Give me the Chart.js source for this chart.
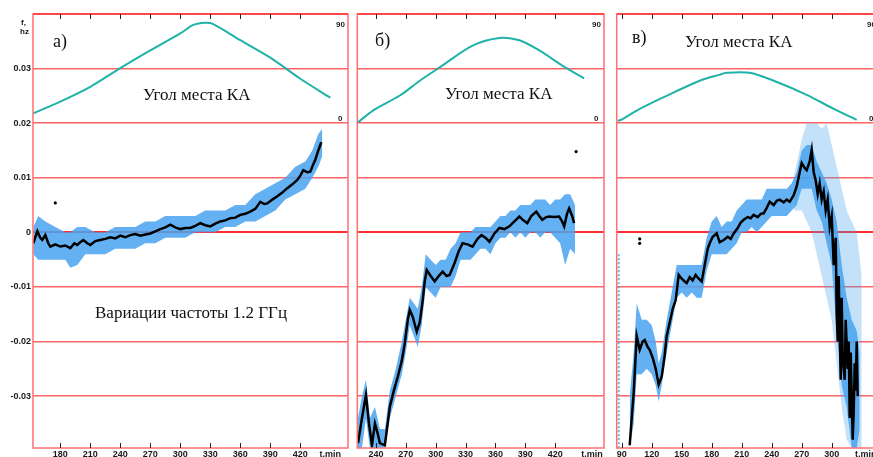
<!DOCTYPE html>
<html><head><meta charset="utf-8">
<script src="https://cdn.jsdelivr.net/npm/chart.js@4/dist/chart.umd.min.js"></script>
<style>
html,body{margin:0;padding:0;background:#fff;width:873px;height:457px;overflow:hidden;position:relative}
canvas{position:absolute;top:0}
</style></head><body>
<canvas id="ca" width="352" height="457" style="left:0px"></canvas>
<canvas id="cb" width="258" height="457" style="left:350px"></canvas>
<canvas id="cc" width="275" height="457" style="left:610px"></canvas>
<script>
// ---------- common axis data ----------
const F_MIN = -0.0395, F_MAX = 0.04;
const yTicks = [-0.03, -0.02, -0.01, 0, 0.01, 0.02, 0.03, 0.04];
const ELEV_ZERO_F = 0.02;              // elevation 0 sits on the 0.02 line, 90 on the top
const ELEV_MAX = 90;
const ELEV_MIN = -ELEV_MAX * (ELEV_ZERO_F - F_MIN) / (F_MAX - ELEV_ZERO_F);

// ---------- panel а ----------
const xTicksA = [180, 210, 240, 270, 300, 330, 360, 390, 420];
const xUnitA = 450;
const tA = [153,157,160,162,165,168,170,175,180,185,190,194,197,200,203,207,210,215,220,225,230,235,240,245,250,255,260,265,270,275,280,285,290,295,300,305,310,315,320,325,330,335,340,345,350,355,360,365,370,375,380,384,387,392,397,402,407,412,417,420,423,427,430,433,435,438,441];
const fA = [-0.0020,0.0002,-0.0010,-0.0014,-0.0005,-0.0020,-0.0026,-0.0022,-0.0026,-0.0024,-0.0029,-0.0020,-0.0023,-0.0018,-0.0014,-0.0020,-0.0023,-0.0016,-0.0014,-0.0012,-0.0009,-0.0011,-0.0006,-0.0009,-0.0005,-0.0003,-0.0006,-0.0004,-0.0002,0.0002,0.0006,0.0009,0.0014,0.0009,0.0006,0.0008,0.0008,0.0012,0.0017,0.0013,0.0011,0.0016,0.0020,0.0022,0.0026,0.0027,0.0032,0.0034,0.0038,0.0043,0.0056,0.0052,0.0053,0.0060,0.0066,0.0073,0.0081,0.0088,0.0096,0.0104,0.0114,0.0110,0.0111,0.0125,0.0133,0.0150,0.0165];
const bandTA = [153,158,165,175,185,190,197,205,215,225,235,245,255,265,275,285,295,305,315,325,335,345,355,365,375,385,395,405,415,425,432,438,442];
const bandUpA = [0.001,0.003,0.002,0.001,0.000,0.000,0.001,0.001,0.000,0.000,0.001,0.001,0.001,0.002,0.002,0.003,0.003,0.003,0.003,0.004,0.004,0.004,0.005,0.005,0.007,0.008,0.009,0.010,0.012,0.013,0.015,0.018,0.019];
const bandLoA = [-0.004,-0.005,-0.005,-0.005,-0.005,-0.0065,-0.006,-0.004,-0.004,-0.004,-0.003,-0.003,-0.003,-0.002,-0.002,-0.001,-0.001,-0.001,0.000,0.000,0.000,0.001,0.001,0.002,0.002,0.003,0.004,0.006,0.007,0.008,0.010,0.012,0.014];
const elevTA = [153,180,210,240,270,300,313,325,333,360,390,420,450];
const elevA = [8.1,17.8,30,45.4,60,74,81,82.8,81.7,68.4,54,36.6,21];
const outTA = [175];
const outFA = [0.0054];

// ---------- panel б ----------
const xTicksB = [240, 270, 300, 330, 360, 390, 420];
const xUnitB = 457;
const tB = [222,226,230,233,236,239,242,244,249,254,258,262,266,269,272,274,277,281,284,287,289,291,295,299,303,307,311,314,319,323,327,332,337,342,346,350,354,359,364,369,374,379,384,388,392,396,401,404,407,411,414,419,424,427,429,432,434,437,439];
const fB = [-0.0386,-0.0340,-0.0298,-0.0350,-0.0390,-0.0350,-0.0370,-0.0386,-0.0390,-0.0319,-0.0290,-0.0264,-0.0235,-0.0203,-0.0160,-0.0142,-0.0155,-0.0182,-0.0165,-0.0124,-0.0090,-0.0069,-0.0080,-0.0090,-0.0080,-0.0072,-0.0080,-0.0078,-0.0056,-0.0035,-0.0020,-0.0022,-0.0026,-0.0012,-0.0005,-0.0010,-0.0017,-0.0002,0.0008,0.0006,0.0011,0.0020,0.0029,0.0022,0.0017,0.0030,0.0038,0.0030,0.0023,0.0028,0.0029,0.0028,0.0029,0.0020,0.0011,0.0035,0.0044,0.0030,0.0017];
const bandTB = [222,226,230,234,239,244,249,254,260,266,270,274,278,282,286,290,295,300,305,310,315,320,325,330,335,340,345,350,355,360,365,370,375,380,385,390,395,400,405,410,415,420,425,430,435,440];
const bandUpB = [-0.034,-0.030,-0.027,-0.034,-0.032,-0.036,-0.036,-0.029,-0.025,-0.020,-0.016,-0.012,-0.013,-0.014,-0.010,-0.004,-0.005,-0.006,-0.005,-0.005,-0.003,-0.002,0.000,0.000,0.000,0.001,0.001,0.001,0.001,0.002,0.003,0.003,0.004,0.004,0.005,0.005,0.005,0.006,0.006,0.006,0.005,0.006,0.006,0.007,0.007,0.005];
const bandLoB = [-0.0395,-0.0395,-0.034,-0.0395,-0.0395,-0.0395,-0.0395,-0.034,-0.030,-0.026,-0.022,-0.017,-0.019,-0.021,-0.017,-0.010,-0.011,-0.012,-0.010,-0.010,-0.010,-0.008,-0.005,-0.005,-0.005,-0.004,-0.003,-0.003,-0.004,-0.002,-0.001,-0.001,0.000,-0.001,0.000,-0.001,0.000,0.000,-0.001,0.000,0.000,-0.001,-0.002,-0.006,-0.003,-0.004];
const elevTB = [221,237,264,284,304,337,364,384,404,430,449];
const elevB = [0,10.4,22.8,35,46,64,70.3,68.4,60,46,37];
const outTB = [441];
const outFB = [0.0148];

// ---------- panel в ----------
const xTicksC = [90, 120, 150, 180, 210, 240, 270, 300];
const xUnitC = 334;
const tC = [98,100,102,105,108,111,113,116,118,121,124,127,130,133,135,138,141,144,147,150,153,155,158,161,164,167,170,173,176,178,181,185,188,192,196,199,202,206,209,212,216,219,222,226,229,232,235,238,242,245,248,252,255,258,262,265,268,270,273,275,278,280,282,284,286,288,290,292,294,296,298,300,302,304,305,306,307,308,309,310,311,313,314,316,317,318,319,320,321,322,323,324,325,326];
const fC = [-0.039,-0.034,-0.0294,-0.0190,-0.0215,-0.0200,-0.0197,-0.0210,-0.0215,-0.0230,-0.0250,-0.0279,-0.0264,-0.0225,-0.0190,-0.0165,-0.0140,-0.0124,-0.0078,-0.0085,-0.0090,-0.0093,-0.0082,-0.0088,-0.0078,-0.0085,-0.0090,-0.0060,-0.0030,-0.0020,-0.0008,-0.0002,-0.0018,-0.0014,-0.0008,-0.0012,-0.0002,0.0008,0.0018,0.0023,0.0028,0.0026,0.0032,0.0028,0.0034,0.0035,0.0045,0.0056,0.0050,0.0058,0.0060,0.0055,0.0060,0.0056,0.0068,0.0084,0.0110,0.0127,0.0118,0.0114,0.0130,0.0151,0.0110,0.0095,0.0070,0.0090,0.0060,0.0075,0.0040,0.0060,0.0010,0.0030,-0.0060,-0.0010,-0.0150,-0.0200,-0.0080,-0.0180,-0.0270,-0.0120,-0.0230,-0.0270,-0.0160,-0.0250,-0.0200,-0.0340,-0.0220,-0.0300,-0.0380,-0.0330,-0.0240,-0.0290,-0.0200,-0.0300];
const bandTC = [98,102,105,110,115,120,124,127,130,135,140,145,150,155,160,165,170,175,180,185,190,195,200,205,210,215,220,225,230,235,240,245,250,255,260,265,270,275,280,285,290,295,300,305,310,315,320,325,328];
const bandUpC = [-0.030,-0.022,-0.013,-0.016,-0.016,-0.017,-0.020,-0.024,-0.022,-0.016,-0.011,-0.006,-0.006,-0.006,-0.006,-0.006,-0.006,-0.001,0.002,0.003,0.001,0.002,0.002,0.004,0.005,0.006,0.006,0.006,0.006,0.008,0.008,0.008,0.008,0.008,0.009,0.011,0.015,0.016,0.016,0.013,0.011,0.009,0.006,0.002,-0.006,-0.012,-0.016,-0.018,-0.022];
const bandLoC = [-0.0395,-0.035,-0.026,-0.026,-0.025,-0.026,-0.028,-0.031,-0.028,-0.022,-0.017,-0.012,-0.011,-0.012,-0.011,-0.012,-0.012,-0.007,-0.004,-0.004,-0.004,-0.004,-0.003,-0.002,0.000,0.000,0.001,0.000,0.001,0.002,0.003,0.003,0.003,0.003,0.004,0.005,0.008,0.008,0.008,0.004,0.002,-0.002,-0.006,-0.018,-0.028,-0.032,-0.0395,-0.0395,-0.036];
const outerTC = [262,270,275,280,285,290,295,300,305,310,315,320,325,330];
const outerUpC = [0.010,0.017,0.020,0.020,0.020,0.019,0.020,0.016,0.012,0.008,0.004,0.002,0.000,-0.008];
const outerLoC = [0.004,0.004,0.002,0.000,-0.004,-0.008,-0.012,-0.016,-0.024,-0.032,-0.038,-0.0395,-0.0395,-0.0395];
const spurTC = [87, 87];
const spurFC = [-0.004, -0.0395];
const elevTC = [86,90,105,132,168,188,195,218,242,275,302,325];
const elevC = [2,3,10.4,21.4,35,40,41.6,41.6,35,23.4,11.8,2.7];
const outTC = [108, 108];
const outFC = [-0.0012, -0.0020];

// ---------- styling ----------
const BLUE = 'rgba(72,163,240,0.85)';
const BLUE_LIGHT = 'rgba(72,163,240,0.32)';
const TEAL = '#1fb2a8';
const GRID = '#ff6464';
const ZERO = '#ff2e2e';
const LABEL_FONT = {family: 'Liberation Sans', size: 9, weight: 'bold'};

function zip(xs, ys) {
  const n = Math.min(xs.length, ys.length), out = [];
  for (let i = 0; i < n; i++) out.push({x: xs[i], y: ys[i]});
  return out;
}

function panelPlugin(p) {
  return {
    id: 'panelDeco',
    afterDatasetsDraw(chart) {
      const {ctx, chartArea: a, scales} = chart;
      const x = scales.x, yE = scales.yE;
      ctx.save();
      // frame
      ctx.strokeStyle = '#ff7070';
      ctx.lineWidth = 1.5;
      ctx.strokeRect(a.left, a.top, a.right - a.left, a.bottom - a.top);
      ctx.strokeStyle = '#ff3a3a';
      ctx.beginPath(); ctx.moveTo(a.left, a.top); ctx.lineTo(a.right, a.top); ctx.stroke();
      // inward tick marks top and bottom
      ctx.strokeStyle = '#222';
      ctx.lineWidth = 1;
      p.xTicks.forEach(v => {
        const px = Math.round(x.getPixelForValue(v)) + 0.5;
        ctx.beginPath();
        ctx.moveTo(px, a.top); ctx.lineTo(px, a.top + 5);
        ctx.moveTo(px, a.bottom); ctx.lineTo(px, a.bottom - 5);
        ctx.stroke();
      });
      // elevation scale labels
      ctx.fillStyle = '#222';
      ctx.font = 'bold 8px "Liberation Sans"';
      ctx.textAlign = 'left';
      ctx.textBaseline = 'alphabetic';
      ctx.fillText(String(ELEV_MAX), a.right - 12, yE.getPixelForValue(ELEV_MAX) + 13);
      ctx.fillText('0', a.right - 10, yE.getPixelForValue(0) - 2);
      // annotations
      p.notes.forEach(n => {
        ctx.font = n.font || '17px "Liberation Serif"';
        ctx.fillStyle = '#111';
        ctx.fillText(n.text, n.x - p.left, n.y);
      });
      ctx.restore();
    }
  };
}

function makeChart(id, p) {
  const ds = [];
  ds.push({data: zip(p.bandT, p.bandUp), borderWidth: 0, pointRadius: 0, fill: false, order: 6});
  ds.push({data: zip(p.bandT, p.bandLo), borderWidth: 0, pointRadius: 0, fill: '-1', backgroundColor: BLUE, order: 6});
  if (p.outerT) {
    ds.push({data: zip(p.outerT, p.outerUp), borderWidth: 0, pointRadius: 0, fill: false, order: 8});
    ds.push({data: zip(p.outerT, p.outerLo), borderWidth: 0, pointRadius: 0, fill: '-1', backgroundColor: BLUE_LIGHT, order: 8});
  }
  if (p.spurT) {
    ds.push({data: zip(p.spurT, p.spurF), borderColor: BLUE, borderWidth: 2, borderDash: [2, 2], pointRadius: 0, fill: false, order: 7});
  }
  ds.push({data: zip(p.t, p.f), borderColor: '#000', borderWidth: 2.5, pointRadius: 0, fill: false, order: 1});
  ds.push({data: zip(p.elevT, p.elev), yAxisID: 'yE', borderColor: TEAL, borderWidth: 2, pointRadius: 0, tension: 0.3, fill: false, order: 2});
  if (p.outT) {
    ds.push({data: zip(p.outT, p.outF), showLine: false, pointRadius: 1.6, pointBackgroundColor: '#000', pointBorderWidth: 0, order: 0});
  }
  return new Chart(document.getElementById(id), {
    type: 'line',
    data: {datasets: ds},
    options: {
      responsive: false, animation: false, events: [],
      layout: {padding: {top: 14, left: p.padL, right: p.padR, bottom: 0}},
      plugins: {legend: {display: false}, tooltip: {enabled: false}},
      scales: {
        x: {
          type: 'linear', min: p.xMin, max: p.xMax,
          grid: {display: false, drawTicks: false}, border: {display: false},
          afterBuildTicks: s => { s.ticks = p.xTicks.concat([p.xUnit]).map(v => ({value: v})); },
          afterFit: s => { s.height = 9; s.paddingLeft = 0; s.paddingRight = 0; },
          ticks: {autoSkip: false, maxRotation: 0, minRotation: 0, padding: 1, color: '#1a1a1a', font: LABEL_FONT,
                  callback: v => v === p.xUnit ? 't,min' : String(v)}
        },
        y: {
          type: 'linear', min: F_MIN, max: F_MAX,
          grid: {drawTicks: false,
                 color: c => (c.tick && c.tick.value === 0) ? ZERO : GRID,
                 lineWidth: c => (c.tick && c.tick.value === 0) ? 2 : 1.5},
          border: {display: false},
          afterBuildTicks: s => { s.ticks = yTicks.map(v => ({value: v})); },
          afterFit: s => { s.width = p.showY ? 33 : 0; s.paddingTop = 0; s.paddingBottom = 0; },
          ticks: {display: p.showY, padding: 2, color: '#1a1a1a', font: LABEL_FONT,
                  callback: v => v === 0.04 ? '' : (v === 0 ? '0' : v.toFixed(2))}
        },
        yE: {type: 'linear', display: false, min: ELEV_MIN, max: ELEV_MAX, position: 'right'}
      }
    },
    plugins: [panelPlugin(p)]
  });
}

makeChart('ca', {
  left: 0, padL: 0, padR: 4, xMin: 152.7, xMax: 467.7, showY: true,
  xTicks: xTicksA, xUnit: xUnitA, t: tA, f: fA,
  bandT: bandTA, bandUp: bandUpA, bandLo: bandLoA,
  elevT: elevTA, elev: elevA, outT: outTA, outF: outFA,
  notes: [
    {text: 'а)', x: 53, y: 47, font: '18px "Liberation Serif"'},
    {text: 'Угол места КА', x: 143, y: 100},
    {text: 'Вариации частоты 1.2 ГГц', x: 95, y: 318},
    {text: 'f,', x: 21, y: 25, font: 'bold 8px "Liberation Sans"'},
    {text: 'hz', x: 20, y: 34, font: 'bold 8px "Liberation Sans"'}
  ]
});
makeChart('cb', {
  left: 350, padL: 7.3, padR: 3, xMin: 221.3, xMax: 469, showY: false,
  xTicks: xTicksB, xUnit: xUnitB, t: tB, f: fB,
  bandT: bandTB, bandUp: bandUpB, bandLo: bandLoB,
  elevT: elevTB, elev: elevB, outT: outTB, outF: outFB,
  notes: [
    {text: 'б)', x: 375, y: 46, font: '18px "Liberation Serif"'},
    {text: 'Угол места КА', x: 445, y: 99}
  ]
});
makeChart('cc', {
  left: 610, padL: 6.7, padR: 6, xMin: 85, xMax: 347.3, showY: false,
  xTicks: xTicksC, xUnit: xUnitC, t: tC, f: fC,
  bandT: bandTC, bandUp: bandUpC, bandLo: bandLoC,
  outerT: outerTC, outerUp: outerUpC, outerLo: outerLoC,
  spurT: spurTC, spurF: spurFC,
  elevT: elevTC, elev: elevC, outT: outTC, outF: outFC,
  notes: [
    {text: 'в)', x: 632, y: 43, font: '18px "Liberation Serif"'},
    {text: 'Угол места КА', x: 685, y: 47}
  ]
});
</script>
</body></html>
